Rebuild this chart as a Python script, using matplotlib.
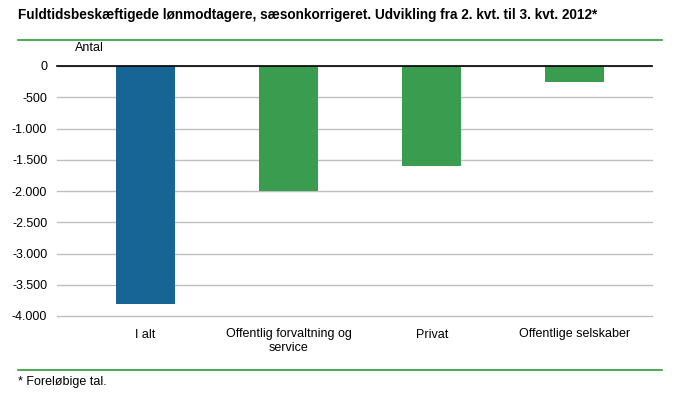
import matplotlib.pyplot as plt
from matplotlib.lines import Line2D

# Data
categories = ["I alt", "Offentlig forvaltning og\nservice", "Privat", "Offentlige selskaber"]
values = [-3800, -2000, -1600, -260]
bar_colors = ["#166594", "#3a9c4e", "#3a9c4e", "#3a9c4e"]
yticks = [0, -500, -1000, -1500, -2000, -2500, -3000, -3500, -4000]

plt.rcParams["font.family"] = ["Liberation Sans", "DejaVu Sans"]

fig = plt.figure(figsize=(6.8, 3.99), dpi=100)
ax = fig.add_axes([57 / 680, 1 - 316 / 399, (652 - 57) / 680, 250 / 399])

x = range(len(categories))
ax.bar(x, values, width=0.41, color=bar_colors, zorder=3)

ax.set_ylim(-4000, 0)
ax.set_xlim(-0.62, 3.54)
ax.set_yticks(yticks)
ax.set_yticklabels([f"{v:,}".replace(",", ".") for v in yticks], fontsize=9)
ax.set_xticks(list(x))
ax.set_xticklabels(categories, fontsize=9, linespacing=1.15)
ax.tick_params(axis="x", length=0, pad=9)
ax.tick_params(axis="y", length=0, pad=7)

ax.grid(axis="y", color="#bfbfbf", linewidth=1, zorder=0)
for gl in ax.get_ygridlines():
    gl.set_clip_on(False)
for s in ax.spines.values():
    s.set_visible(False)
ax.axhline(0, color="black", linewidth=1.2, zorder=4, clip_on=False)

fig.text(75 / 680, 1 - 48 / 399, "Antal", fontsize=9, va="center")

# Header / footer
fig.text(18 / 680, 1 - 15 / 399, "Fuldtidsbeskæftigede lønmodtagere, sæsonkorrigeret. Udvikling fra 2. kvt. til 3. kvt. 2012*",
         fontsize=9.8, fontweight="bold", va="center")
fig.add_artist(Line2D([18 / 680, 662 / 680], [1 - 40 / 399] * 2, color="#2e9a36", linewidth=1.2))
fig.add_artist(Line2D([18 / 680, 662 / 680], [1 - 370 / 399] * 2, color="#2e9a36", linewidth=1.2))
fig.text(18 / 680, 1 - 382 / 399, "* Foreløbige tal.", fontsize=9, va="center")

fig.savefig("out.png", dpi=100)
